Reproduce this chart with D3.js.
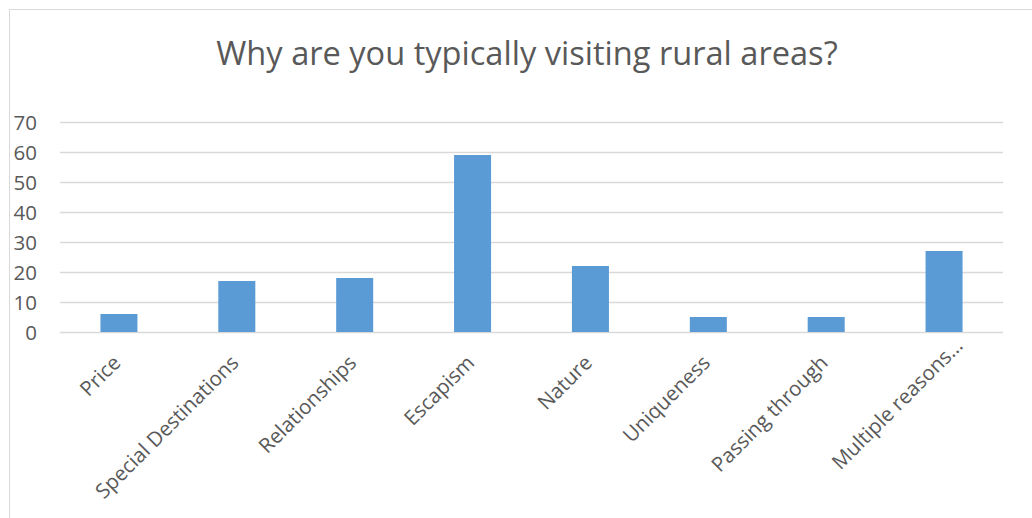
<!DOCTYPE html>
<html>
<head>
<meta charset="utf-8">
<script src="https://cdn.jsdelivr.net/npm/d3@7"></script>
<style>
  html, body { margin: 0; padding: 0; background: #fff; }
  svg { display: block; font-family: "Open Sans", "Noto Sans", sans-serif; }
</style>
</head>
<body>
<svg id="chart" width="1032" height="518"></svg>
<script>
// Survey answers: reasons for visiting rural areas
const categories = ["Price", "Special Destinations", "Relationships", "Escapism",
                    "Nature", "Uniqueness", "Passing through", "Multiple reasons…"];
const counts = [6, 17, 18, 59, 22, 5, 5, 27];
const yTicks = [0, 10, 20, 30, 40, 50, 60, 70];
const title = "Why are you typically visiting rural areas?";

const svg = d3.select("#chart");
const plot = { left: 60, right: 1003, top: 122, bottom: 332 };

// Chart frame (continues past the visible area on the right and bottom)
svg.append("rect")
  .attr("x", 9.5).attr("y", 9.5)
  .attr("width", 1200).attr("height", 700)
  .attr("fill", "#fff").attr("stroke", "#d9d9d9").attr("stroke-width", 1);

svg.append("text")
  .attr("x", 527).attr("y", 65)
  .attr("text-anchor", "middle")
  .attr("font-size", 32.6)
  .attr("fill", "#595959")
  .text(title);

const x = d3.scaleBand()
  .domain(categories)
  .range([plot.left, plot.right])
  .paddingInner(0.686)
  .paddingOuter(0.343);

const y = d3.scaleLinear()
  .domain([0, 70])
  .range([plot.bottom, plot.top]);

// Horizontal gridlines
svg.append("g")
  .selectAll("line")
  .data(yTicks)
  .join("line")
  .attr("x1", plot.left).attr("x2", plot.right)
  .attr("y1", d => Math.round(y(d)) + 0.5)
  .attr("y2", d => Math.round(y(d)) + 0.5)
  .attr("stroke", "#d9d9d9")
  .attr("stroke-width", 1.4);

// Y axis labels
const yAxis = d3.axisLeft(y).tickValues(yTicks).tickSize(0).tickPadding(0);
const yg = svg.append("g")
  .attr("transform", "translate(37,0)")
  .call(yAxis);
yg.select(".domain").remove();
yg.selectAll("text")
  .attr("font-size", 20.5)
  .attr("font-family", "\"Open Sans\", sans-serif")
  .attr("fill", "#595959")
  .attr("dy", "0.36em");

// Bars
svg.append("g")
  .selectAll("rect")
  .data(counts)
  .join("rect")
  .attr("x", (d, i) => x(categories[i]))
  .attr("width", x.bandwidth())
  .attr("y", d => y(d))
  .attr("height", d => y(0) - y(d))
  .attr("fill", "#5b9bd5");

// Rotated category labels; truncated labels sit a little further along their slope
const xAxis = d3.axisBottom(x).tickSize(0).tickPadding(0);
const xg = svg.append("g")
  .attr("transform", `translate(0,${plot.bottom})`)
  .call(xAxis);
xg.select(".domain").remove();
xg.selectAll("text")
  .attr("font-size", 20.5)
  .attr("font-family", "\"Open Sans\", sans-serif")
  .attr("fill", "#595959")
  .attr("text-anchor", "end")
  .attr("dy", 0)
  .attr("y", 0)
  .attr("transform", d => {
    const shift = d.endsWith("…") ? 17 : 0;
    return `translate(${3 + shift},${32 - shift}) rotate(-45)`;
  });
</script>
</body>
</html>
